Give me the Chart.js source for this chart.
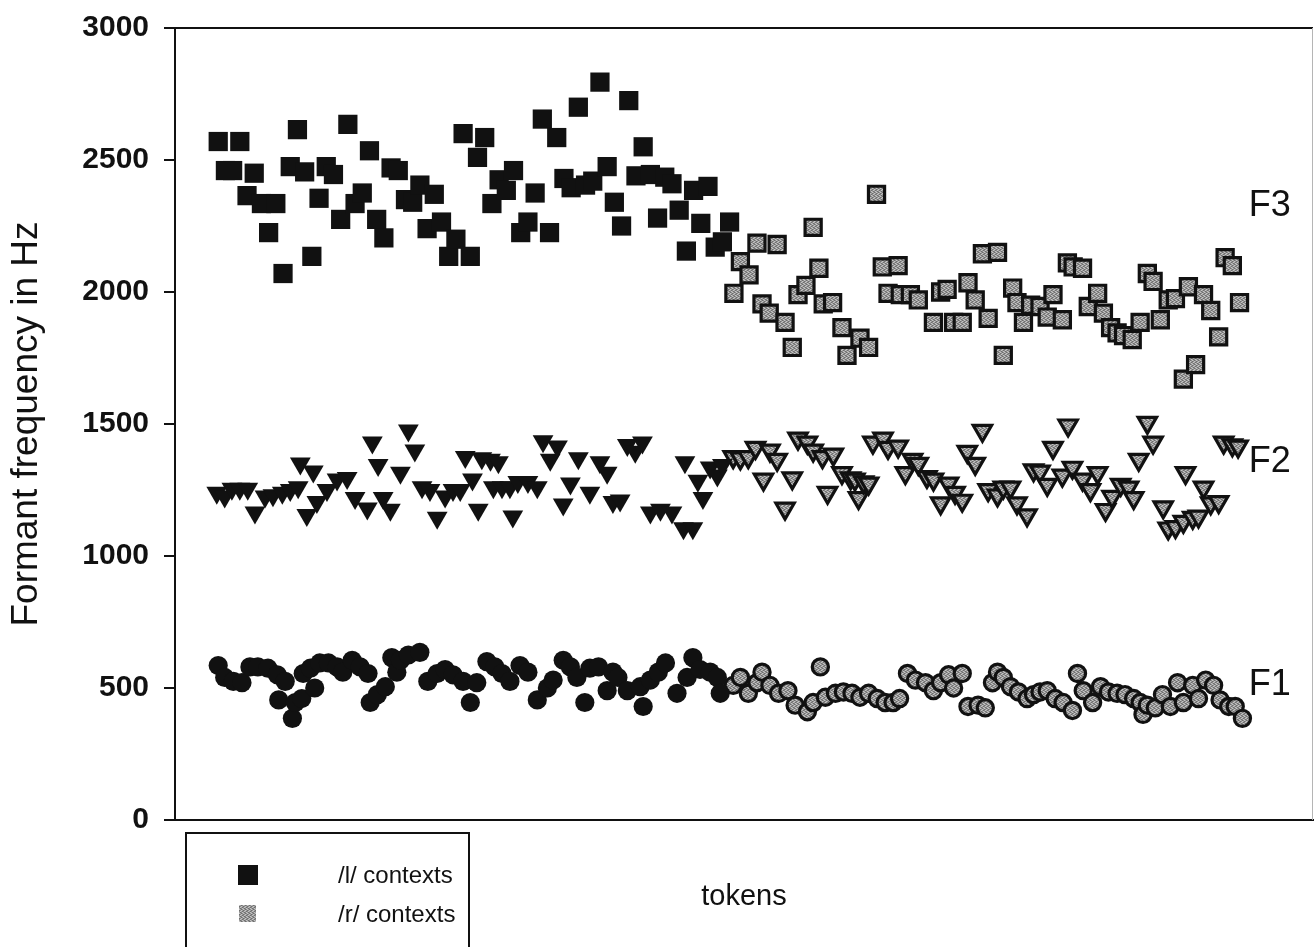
<!DOCTYPE html>
<html>
<head>
<meta charset="utf-8">
<title>Formant frequencies by token</title>
<script src="https://cdn.jsdelivr.net/npm/chart.js@4.4.1/dist/chart.umd.min.js"></script>
<style>
  html, body { margin: 0; padding: 0; background: #fff; overflow: hidden; }
  #wrap { position: relative; width: 1315px; height: 947px; }
  #legend {
    position: absolute; left: 185px; top: 832px; width: 285px; height: 140px;
    border: 2px solid #111; box-sizing: border-box;
    font-family: "Liberation Sans", Arial, sans-serif; font-size: 24px; color: #111;
  }
  .leg-item { position: absolute; left: 0; height: 24px; line-height: 24px; }
  .leg-mark { position: absolute; left: 51px; top: 2px; width: 20px; height: 20px; }
  .leg-text { position: absolute; left: 151px; white-space: nowrap; }
</style>
</head>
<body>
<div id="wrap">
  <canvas id="chart" width="1315" height="947"></canvas>
  <div id="legend"></div>
</div>
<script>
// Formant measurements per token: /l/ tokens first, then /r/ tokens
const legendLabels = ["/l/ contexts", "/r/ contexts"];
const formantLabels = ["F3", "F2", "F1"];
const formantLabelHz = [2325, 1356, 511];
const formantLabelToken = 147.0;
const yTicks = [0, 500, 1000, 1500, 2000, 2500, 3000];

// F3
const f3LTok = [1,2,3,4,5,6,7,8,9,10,11,12,13,14,15,16,17,18,19,20,21,22,23,24,25,26,27,28,29,30,31,32,33,34,35,36,
  37,38,39,40,41,42,43,44,45,46,47,48,49,50,51,52,53,54,55,56,57,58,59,60,61,62,63,64,65,66,67,68,69,70,71,72];
const f3LHz = [2570,2460,2460,2570,2365,2450,2335,2225,2335,2070,2475,2615,2455,2135,2355,2475,2445,2275,2635,2335,
  2375,2535,2275,2205,2470,2460,2350,2340,2405,2240,2370,2265,2135,2200,2600,2135,2510,2585,2335,2425,
  2385,2460,2225,2265,2375,2655,2225,2585,2430,2395,2700,2405,2420,2795,2475,2340,2250,2725,2440,2550,
  2445,2280,2435,2410,2310,2155,2385,2260,2400,2170,2190,2265];
const f3RTok = [72.6,73.5,74.7,75.8,76.5,77.5,78.6,79.7,80.7,81.5,82.6,83.6,84.4,85.0,86.3,87.6,88.3,90.1,91.3,92.4,
  93.2,94.0,95.4,95.7,97.1,98.2,100.3,101.3,102.2,103.1,104.3,105.1,106.1,107.1,107.9,109.2,110.0,111.3,111.9,112.8,
  113.8,115.1,116.1,116.9,118.2,118.9,119.7,121.0,121.8,123.1,123.9,124.9,125.8,126.7,127.9,129.0,130.0,130.8,131.8,132.9,
  133.9,135.0,135.7,136.7,137.8,138.8,139.9,140.8,141.8,142.8];
const f3RHz = [1995,2115,2065,2185,1955,1920,2180,1885,1790,1990,2025,2245,2090,1955,1960,1865,1760,1825,1790,2370,
  2095,1995,2100,1990,1990,1970,1885,2000,2010,1885,1885,2035,1970,2145,1900,2150,1760,2015,1960,1885,
  1950,1945,1905,1990,1895,2110,2095,2090,1945,1995,1920,1865,1845,1835,1820,1885,2070,2040,1895,1970,
  1975,1670,2020,1725,1990,1930,1830,2130,2100,1960];

// F2
const f2LTok = [0.8,1.9,2.9,4.0,5.1,6.1,7.5,8.6,9.9,11.0,12.1,12.4,13.3,14.2,14.7,16.1,17.5,18.9,20.0,21.7,
  22.4,23.2,23.9,24.9,26.3,27.4,28.3,29.3,30.4,31.4,32.5,33.6,34.6,35.3,36.3,37.1,37.6,38.8,39.2,39.9,
  40.4,41.5,41.9,42.6,44.0,45.3,46.1,47.1,48.1,48.9,49.9,51.0,52.6,54.0,55.0,55.8,56.8,57.8,58.9,59.9,
  61.0,62.4,64.0,65.6,65.8,66.9,67.6,68.3,69.3,70.3,71.0];
const f2LHz = [1240,1225,1255,1255,1255,1165,1225,1230,1240,1250,1260,1350,1155,1320,1205,1250,1290,1295,1220,1180,
  1430,1345,1220,1175,1315,1475,1400,1260,1250,1145,1225,1250,1250,1375,1290,1175,1370,1365,1260,1355,
  1260,1260,1150,1280,1280,1260,1435,1365,1415,1195,1275,1370,1240,1355,1315,1205,1210,1420,1395,1430,
  1165,1175,1165,1105,1355,1105,1285,1220,1335,1305,1345];
const f2RTok = [72.5,73.5,74.6,75.6,76.7,77.6,78.6,79.7,80.7,81.5,82.8,83.6,84.9,85.6,86.4,87.6,88.8,89.4,89.9,90.6,
  91.3,91.9,93.3,94.0,95.4,96.4,97.4,98.2,99.4,100.3,101.3,102.4,103.3,104.3,105.0,106.1,107.1,107.9,109.2,110.0,
  111.0,111.9,113.3,114.2,115.1,116.1,116.9,118.2,119.0,119.6,121.0,122.1,123.1,124.2,125.1,126.3,127.4,128.1,128.8,130.0,
  130.8,132.2,132.9,133.9,135.0,135.3,136.3,137.1,137.8,138.8,139.9,140.6,141.8,142.6];
const f2RHz = [1375,1370,1375,1410,1290,1400,1365,1180,1295,1445,1430,1400,1375,1240,1385,1315,1295,1290,1220,1280,
  1275,1430,1445,1410,1415,1315,1365,1350,1300,1290,1200,1275,1240,1210,1395,1350,1475,1250,1230,1260,
  1260,1200,1155,1325,1320,1270,1410,1305,1495,1335,1290,1250,1315,1175,1225,1270,1260,1220,1365,1505,
  1430,1185,1105,1110,1130,1315,1145,1150,1260,1200,1205,1430,1420,1415];

// F1
const f1LTok = [1.0,1.9,3.1,4.3,5.4,6.5,7.9,9.2,9.4,10.3,11.3,11.7,12.6,12.8,13.8,14.4,15.1,16.3,17.5,18.3,
  19.6,20.7,21.8,22.1,23.1,24.2,25.1,25.8,26.3,27.4,29.0,30.1,31.4,32.5,33.6,35.0,36.0,36.9,38.3,39.4,
  40.4,41.5,42.9,44.0,45.3,46.7,47.5,48.9,49.9,50.8,51.9,52.6,53.8,55.0,55.8,56.5,57.8,59.6,60.0,61.0,
  62.1,63.1,64.7,66.1,66.9,67.9,69.3,70.3,70.7];
const f1LHz = [585,540,525,520,580,580,575,550,455,525,385,445,460,555,575,500,595,595,580,560,
  605,580,555,445,475,505,615,560,605,625,635,525,555,570,550,525,445,520,600,580,
  555,525,585,560,455,500,530,605,580,540,445,575,580,490,560,540,490,505,430,530,
  560,595,480,540,615,570,560,540,480];
const f1RTok = [72.5,73.5,74.6,75.8,76.5,77.6,78.8,80.1,81.1,82.8,83.6,84.6,85.3,86.7,87.8,89.0,90.1,91.3,92.5,93.6,
  94.7,95.6,96.7,97.8,99.2,100.3,101.3,102.4,103.1,104.3,105.1,106.5,107.5,108.5,109.2,110.0,111.0,112.1,113.3,114.2,
  115.1,116.1,117.2,118.3,119.6,120.3,121.1,122.4,123.5,124.6,125.8,126.9,128.1,129.0,129.4,130.0,131.1,132.1,133.2,134.2,
  135.0,136.3,137.1,138.1,139.2,140.1,141.3,142.2,143.2];
const f1RHz = [510,540,480,520,560,510,480,490,435,410,445,580,465,480,485,480,465,480,460,445,
  445,460,555,530,520,490,520,550,500,555,430,435,425,520,560,540,505,485,460,475,
  485,490,460,445,415,555,490,445,505,485,480,475,460,445,400,435,425,475,430,520,
  445,510,460,530,510,455,430,430,385];

const FONT = "'Liberation Sans', Arial, Helvetica, sans-serif";
const INK = "#111111";

// speckled grey fill used for the /r/ markers (fixed dither tile)
function makeSpeckle() {
  const tile = document.createElement("canvas");
  tile.width = 4;
  tile.height = 4;
  const tctx = tile.getContext("2d");
  const shades = ["#c4c4c4", "#6e6e6e", "#a2a2a2", "#8a8a8a"];
  const order = [0, 2, 1, 3, 1, 3, 0, 2, 3, 0, 2, 1, 2, 1, 3, 0];
  order.forEach((s, i) => {
    tctx.fillStyle = shades[s];
    tctx.fillRect(i % 4, Math.floor(i / 4), 1, 1);
  });
  return tile;
}
const speckleTile = makeSpeckle();
const GREY = document.createElement("canvas").getContext("2d").createPattern(speckleTile, "repeat");

const pts = (tok, hz) => tok.map((t, i) => ({ x: t, y: hz[i] }));

function lSeries(tok, hz, style, radius, rotation) {
  return {
    data: pts(tok, hz), pointStyle: style, pointRadius: radius, rotation: rotation || 0,
    pointBackgroundColor: INK, pointBorderColor: INK, pointBorderWidth: 0
  };
}
function rSeries(tok, hz, style, radius, rotation) {
  return {
    data: pts(tok, hz), pointStyle: style, pointRadius: radius, rotation: rotation || 0,
    pointBackgroundColor: GREY, pointBorderColor: INK, pointBorderWidth: 3.2
  };
}

// frame top/right edge and the F1-F3 labels
const framePlugin = {
  id: "frame",
  afterDraw(chart) {
    const { ctx, chartArea: a, scales } = chart;
    ctx.save();
    ctx.strokeStyle = INK;
    ctx.lineWidth = 2;
    ctx.beginPath();
    ctx.moveTo(a.left, a.top);
    ctx.lineTo(a.right, a.top);
    ctx.stroke();
    ctx.strokeStyle = "#b5b5b5";
    ctx.lineWidth = 1;
    ctx.beginPath();
    ctx.moveTo(a.right - 0.5, a.top);
    ctx.lineTo(a.right - 0.5, a.bottom);
    ctx.stroke();

    ctx.fillStyle = INK;
    ctx.font = "36px " + FONT;
    ctx.textAlign = "center";
    ctx.textBaseline = "middle";
    formantLabels.forEach((lab, i) => {
      ctx.fillText(lab, scales.x.getPixelForValue(formantLabelToken), scales.y.getPixelForValue(formantLabelHz[i]));
    });
    ctx.restore();
  }
};

new Chart(document.getElementById("chart"), {
  type: "scatter",
  data: {
    datasets: [
      lSeries(f3LTok, f3LHz, "rect", 13.6),
      lSeries(f2LTok, f2LHz, "triangle", 12, 180),
      lSeries(f1LTok, f1LHz, "circle", 9.6),
      rSeries(f3RTok, f3RHz, "rect", 11.4),
      rSeries(f2RTok, f2RHz, "triangle", 10.6, 180),
      rSeries(f1RTok, f1RHz, "circle", 8.1)
    ]
  },
  options: {
    responsive: false,
    animation: false,
    events: [],
    layout: { autoPadding: false, padding: { top: 28, right: 2, left: 0, bottom: 0 } },
    plugins: { legend: { display: false }, tooltip: { enabled: false } },
    scales: {
      x: {
        type: "linear", min: -5, max: 153,
        grid: { display: false },
        border: { display: true, color: INK, width: 2 },
        ticks: { display: false },
        title: { display: true, text: "tokens", color: INK, font: { family: FONT, size: 29 }, padding: { top: 0, bottom: 33 } },
        afterFit(scale) { scale.height = 127; scale.paddingLeft = 0; scale.paddingRight = 0; }
      },
      y: {
        min: 0, max: 3000,
        afterBuildTicks(scale) { scale.ticks = yTicks.map(v => ({ value: v })); },
        ticks: { color: INK, font: { family: FONT, size: 30, weight: "bold" }, padding: 15, callback: v => String(v) },
        grid: { drawOnChartArea: false, drawTicks: true, tickLength: 11, color: INK, lineWidth: 2 },
        border: { display: true, color: INK, width: 2 },
        title: { display: true, text: "Formant frequency in Hz", color: INK, font: { family: FONT, size: 37 }, padding: { top: 5, bottom: 0 } },
        afterFit(scale) { scale.width = 175; scale.paddingTop = 0; scale.paddingBottom = 0; }
      }
    }
  },
  plugins: [framePlugin]
});

// legend box in the lower left, cut by the page edge
const legendEl = document.getElementById("legend");
const speckleUrl = speckleTile.toDataURL();
legendEl.innerHTML = legendLabels.map((lab, i) => `
  <div class="leg-item" style="top:${29 + i * 39}px">
    <div class="leg-mark" style="background:${i === 0 ? INK : `url(${speckleUrl}) repeat`}; ${i === 1 ? "width:17px;height:17px;top:3px;left:52px;" : ""}"></div>
    <span class="leg-text">${lab}</span>
  </div>`).join("");
</script>
</body>
</html>
